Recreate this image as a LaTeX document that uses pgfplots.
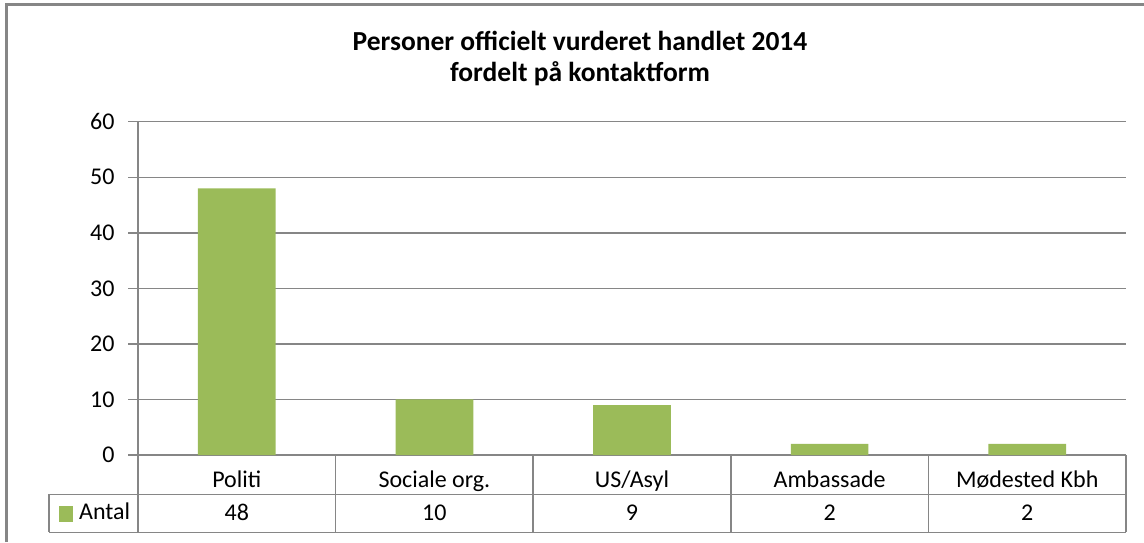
\documentclass[border=0pt]{standalone}
\usepackage{fontspec}
\setmainfont{Carlito}
\usepackage{pgfplots}
\pgfplotsset{compat=1.18}
\definecolor{bargreen}{HTML}{9BBB59}
\definecolor{gridgray}{HTML}{868686}
\newcommand{\lbl}{\fontsize{24}{28}\selectfont}
\newcommand{\ttl}{\bfseries\fontsize{27.5}{31}\selectfont}

\begin{document}
\begin{tikzpicture}
\begin{scope}[x=1pt,y=-1pt]
  \path[use as bounding box] (0,0) rectangle (1144,542);
  % chart frame (cut off at right and bottom)
  \draw[gridgray, line width=3pt] (6,542) -- (6,4.5) -- (1144,4.5);
  % title
  \node[anchor=base, font=\ttl, inner sep=0pt] at (580,50.7) {Personer officielt vurderet handlet 2014};
  \node[anchor=base, font=\ttl, inner sep=0pt] at (580,81.7) {fordelt på kontaktform};
  % data table grid
  \draw[gridgray, line width=1.5pt]
    (49,494.3) -- (1126,494.3)
    (49,532.3) -- (1126,532.3)
    (49,494.3) -- (49,532.3)
    (138,455) -- (138,532.3);
  \foreach \sx in {335.6,533.2,730.8,928.4,1126}
    \draw[gridgray, line width=1.5pt] (\sx,455) -- (\sx,532.3);
  % legend key
  \fill[bargreen] (59,506) rectangle (73,521.5);
  \node[anchor=base west, font=\lbl, inner sep=0pt] at (79,519.3) {Antal};
\end{scope}

\begin{axis}[
    at={(138pt,-455pt)}, anchor=south west,
    scale only axis, width=988pt, height=333.3pt,
    xmin=0.5, xmax=5.5, ymin=0, ymax=60,
    axis x line*=bottom, axis y line*=left,
    axis line style={gridgray, line width=1.5pt},
    xtick={1,...,5},
    xticklabels={Politi, Sociale org., US/Asyl, Ambassade, Mødested Kbh},
    x tick style={draw=none},
    xticklabel style={font=\lbl, anchor=base, yshift=-22pt},
    ytick={0,10,...,60},
    ytick pos=left,
    tick align=outside, major tick length=10pt,
    y tick style={gridgray, line width=1.5pt},
    yticklabel style={font=\lbl, xshift=-10pt},
    /pgf/number format/assume math mode=true,
    ymajorgrids, major grid style={gridgray, line width=1.5pt},
    clip=false,
]
\addplot[ybar, bar width=77.7pt, bar shift=0pt, fill=bargreen, draw=none]
  coordinates {(1,48) (2,10) (3,9) (4,2) (5,2)};
% values row of the data table
\addplot[draw=none, mark=none, forget plot,
  nodes near coords, point meta=explicit symbolic,
  every node near coord/.append style={anchor=base, font=\lbl, inner sep=0pt}]
  coordinates {(1,-11.7)[48] (2,-11.7)[10] (3,-11.7)[9] (4,-11.7)[2] (5,-11.7)[2]};
\end{axis}
\end{tikzpicture}
\end{document}
